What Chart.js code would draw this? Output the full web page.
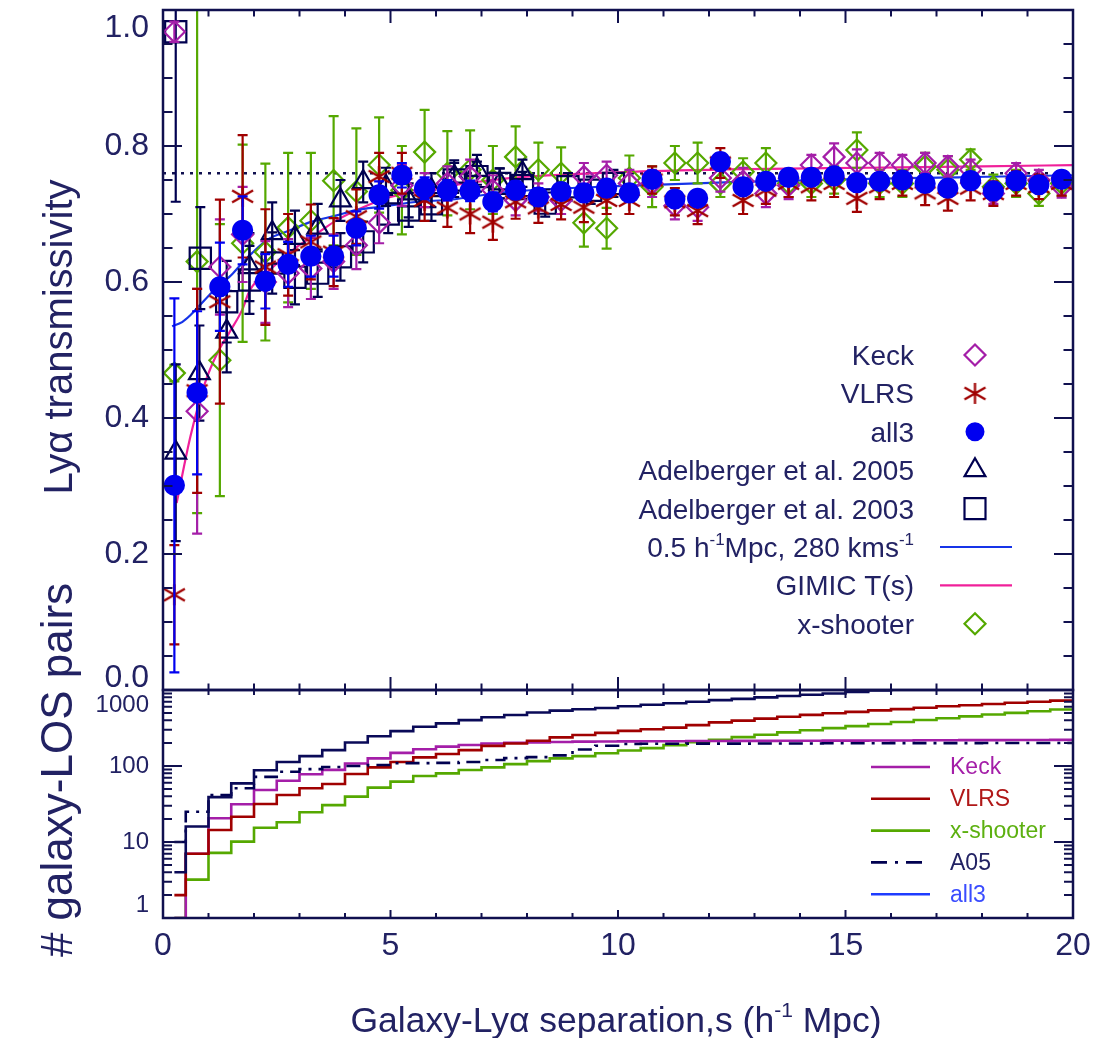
<!DOCTYPE html>
<html>
<head>
<meta charset="utf-8">
<title>Lyα transmissivity around galaxies</title>
<script src="https://cdn.jsdelivr.net/npm/chart.js@4.4.1/dist/chart.umd.min.js"></script>
<style>
  html, body { margin: 0; padding: 0; background: #fff; }
  #page { position: relative; width: 1099px; height: 1038px; overflow: hidden; }
  canvas { position: absolute; left: 0; }
  #upper { top: 0; }
  #lower { top: 520px; }
</style>
</head>
<body>
<div id="page">
  <canvas id="lower" width="1099" height="518"></canvas>
  <canvas id="upper" width="1099" height="700"></canvas>
</div>
<script>
// separation bins (h^-1 Mpc)
const sBins = [0.25, 0.75, 1.25, 1.75, 2.25, 2.75, 3.25, 3.75, 4.25, 4.75,
               5.25, 5.75, 6.25, 6.75, 7.25, 7.75, 8.25, 8.75, 9.25, 9.75,
               10.25, 10.75, 11.25, 11.75, 12.25, 12.75, 13.25, 13.75, 14.25, 14.75,
               15.25, 15.75, 16.25, 16.75, 17.25, 17.75, 18.25, 18.75, 19.25, 19.75];

const keckT = [0.968, 0.41, 0.622, 0.67, 0.60, 0.613, 0.62, 0.63, 0.654, 0.687,
               0.742, 0.735, 0.745, 0.755, 0.735, 0.72, 0.725, 0.72, 0.755, 0.757,
               0.745, 0.745, 0.712, 0.71, 0.753, 0.748, 0.73, 0.742, 0.772, 0.784,
               0.775, 0.775, 0.772, 0.775, 0.77, 0.765, 0.73, 0.76, 0.75, 0.74];
const keckErr = [0.015, 0.18, 0.07, 0.07, 0.06, 0.05, 0.045, 0.04, 0.035, 0.03,
                 0.03, 0.025, 0.025, 0.025, 0.022, 0.022, 0.02, 0.02, 0.02, 0.02,
                 0.02, 0.02, 0.02, 0.02, 0.02, 0.02, 0.02, 0.02, 0.015, 0.02,
                 0.02, 0.015, 0.015, 0.015, 0.015, 0.015, 0.015, 0.015, 0.015, 0.016];

const vlrsT = [0.14, 0.44, 0.571, 0.726, 0.622, 0.64, 0.659, 0.644, 0.696, 0.755,
               0.76, 0.72, 0.709, 0.70, 0.688, 0.718, 0.709, 0.714, 0.71, 0.72,
               0.72, 0.75, 0.718, 0.705, 0.775, 0.72, 0.735, 0.745, 0.74, 0.745,
               0.723, 0.74, 0.745, 0.731, 0.723, 0.738, 0.73, 0.745, 0.74, 0.745];
const vlrsErr = [0.073, 0.15, 0.15, 0.09, 0.085, 0.06, 0.055, 0.05, 0.04, 0.035,
                 0.03, 0.03, 0.028, 0.028, 0.026, 0.025, 0.022, 0.022, 0.022, 0.02,
                 0.02, 0.02, 0.02, 0.02, 0.022, 0.02, 0.02, 0.02, 0.02, 0.02,
                 0.02, 0.018, 0.018, 0.018, 0.018, 0.018, 0.018, 0.018, 0.018, 0.018];

const all3T = [0.301, 0.437, 0.593, 0.676, 0.601, 0.626, 0.638, 0.638, 0.679, 0.728,
               0.757, 0.738, 0.735, 0.734, 0.718, 0.735, 0.725, 0.733, 0.731, 0.738,
               0.731, 0.751, 0.722, 0.723, 0.777, 0.740, 0.748, 0.754, 0.754, 0.756,
               0.746, 0.748, 0.750, 0.745, 0.738, 0.749, 0.734, 0.749, 0.743, 0.751];
const all3Err = [0.275, 0.12, 0.065, 0.05, 0.04, 0.033, 0.03, 0.03, 0.025, 0.02,
                 0.018, 0.016, 0.015, 0.015, 0.014, 0.013, 0.013, 0.012, 0.012, 0.012,
                 0.012, 0.011, 0.011, 0.011, 0.012, 0.01, 0.01, 0.01, 0.01, 0.01,
                 0.01, 0.01, 0.01, 0.01, 0.01, 0.01, 0.01, 0.01, 0.01, 0.01];

const xshT = [0.466, 0.63, 0.485, 0.657, 0.644, 0.68, 0.69, 0.749, 0.733, 0.772,
              0.735, 0.791, 0.76, 0.765, 0.75, 0.784, 0.765, 0.76, 0.687, 0.679,
              0.753, 0.74, 0.775, 0.775, 0.745, 0.762, 0.775, 0.745, 0.745, 0.75,
              0.794, 0.745, 0.745, 0.77, 0.765, 0.78, 0.74, 0.745, 0.73, 0.745];
const xshErr = [0.012, 0.37, 0.2, 0.145, 0.13, 0.11, 0.1, 0.095, 0.093, 0.07,
                0.065, 0.062, 0.062, 0.058, 0.05, 0.045, 0.04, 0.038, 0.035, 0.03,
                0.033, 0.03, 0.025, 0.03, 0.02, 0.02, 0.022, 0.02, 0.02, 0.02,
                0.026, 0.02, 0.02, 0.02, 0.02, 0.015, 0.018, 0.02, 0.018, 0.018];

// Adelberger et al. points sit slightly right of the bin centres
const sA05 = [0.28, 0.8, 1.4, 1.9, 2.4, 2.9, 3.4, 3.9, 4.4, 4.9, 5.4, 5.9, 6.4, 6.9, 7.4, 7.9];
const a05T = [0.349, 0.466, 0.527, 0.622, 0.672, 0.665, 0.68, 0.72, 0.747, 0.74,
              0.72, 0.735, 0.755, 0.765, 0.745, 0.76];
const a05Err = [0.13, 0.07, 0.06, 0.05, 0.045, 0.04, 0.035, 0.03, 0.03, 0.028,
                0.025, 0.025, 0.024, 0.022, 0.022, 0.02];

const sA03 = [0.28, 0.82, 1.4, 1.9, 2.4, 2.9, 3.4, 3.9, 4.4, 4.95,
              5.4, 5.9, 6.4, 6.9, 7.4, 7.9, 8.4, 8.9, 9.4, 9.9];
const a03T = [0.968, 0.635, 0.571, 0.603, 0.628, 0.607, 0.613, 0.637, 0.659, 0.70,
              0.706, 0.715, 0.75, 0.755, 0.745, 0.742, 0.716, 0.74, 0.735, 0.745];
const a03Err = [0.25, 0.075, 0.06, 0.05, 0.045, 0.04, 0.035, 0.035, 0.03, 0.028,
                0.025, 0.025, 0.025, 0.022, 0.022, 0.02, 0.02, 0.02, 0.02, 0.02];

// model curves
const modelS = [0.2, 0.42, 0.6, 0.81, 1.08, 1.3, 1.54, 1.8, 2.29, 2.79, 3.23, 3.82,
                4.26, 4.84, 5.58, 6.31, 7.5, 10, 12.5, 15, 17.5, 20];
const modelT = [0.535, 0.541, 0.551, 0.566, 0.585, 0.598, 0.613, 0.632, 0.662, 0.676, 0.688, 0.698,
                0.706, 0.711, 0.718, 0.721, 0.732, 0.741, 0.747, 0.751, 0.754, 0.757];
const gimicS = [0.3, 0.6, 0.92, 1.19, 1.47, 1.74, 1.91, 2.35, 2.85, 3.4, 3.82,
                4.4, 5.0, 5.58, 6.16, 7.0, 7.8, 10.3, 12.9, 15.5, 18, 20];
const gimicT = [0.275, 0.372, 0.451, 0.495, 0.527, 0.559, 0.588, 0.618, 0.647, 0.672, 0.691,
                0.71, 0.725, 0.732, 0.74, 0.748, 0.754, 0.762, 0.766, 0.768, 0.77, 0.772];
const meanLevel = 0.76;

// cumulative galaxy-LOS pair counts, one value per step starting at each edge
const histS = [0.25, 0.5, 1, 1.5, 2, 2.5, 3, 3.5, 4, 4.5, 5, 5.5, 6, 6.5, 7, 7.5, 8, 8.5, 9, 9.5,
               10, 10.5, 11, 11.5, 12, 12.5, 13, 13.5, 14, 14.5, 15, 15.5, 16, 16.5, 17, 17.5,
               18, 18.5, 19, 19.5, 20];
const nAll3 = [4, 16, 39, 59, 88, 113, 135, 162, 204, 246, 288, 329, 364, 402, 437, 469, 505, 535, 557, 580,
               610, 640, 670, 700, 735, 765, 800, 835, 865, 900, 940, 990, 1030, 1070, 1110, 1150,
               1190, 1230, 1270, 1310, 1310];
const nKeck = [1, 7, 20.5, 31.4, 48.4, 64, 78, 89, 108, 126, 149, 166, 180, 189, 198, 202, 204, 207, 209, 210,
               211, 212, 212, 213, 213, 214, 214, 215, 215, 216, 216, 217, 217, 218, 218, 219,
               219, 220, 220, 221, 221];
const nVLRS = [2, 7, 14.4, 21.5, 31.6, 41.5, 51, 58, 78.6, 96, 113, 130, 144, 162, 184, 198, 215, 238, 256, 273,
               290, 305, 320, 345, 375, 395, 420, 445, 470, 495, 515, 540, 560, 585, 610, 630,
               655, 680, 700, 725, 725];
const nXsh = [1, 3.2, 7.2, 10.1, 15.4, 18.2, 24.6, 30.6, 39.5, 51.9, 62.2, 73.7, 80, 88.6, 96, 106, 116, 126, 135, 147,
              160, 172, 188, 205, 222, 240, 258, 277, 296, 315, 335, 357, 380, 403, 425, 450,
              475, 500, 525, 555, 555];
const nA05 = [10, 25, 41.5, 51, 72, 84, 91, 97, 100, 103, 109, 109, 110, 113, 120, 127, 131, 138, 165, 185,
              195, 196, 196, 197, 197, 197, 198, 198, 198, 199, 199, 199, 200, 200, 200, 200,
              201, 201, 201, 201, 201];

const upperYLabels = ['0.0', '0.2', '0.4', '0.6', '0.8', '1.0'];
const upperYValues = [0, 0.2, 0.4, 0.6, 0.8, 1.0];
const lowerYLabels = ['1', '10', '100', '1000'];
const lowerYValues = [1, 10, 100, 1000];
const xLabels = ['0', '5', '10', '15', '20'];
const xValues = [0, 5, 10, 15, 20];

const FONT = '"Liberation Sans", Arial, Helvetica, sans-serif';
const NAVY = '#10104f';
const TEXT = '#222263';
const KECK = '#a41ea8';
const VLRS = '#a00000';
const ALL3 = '#0000f0';
const ADEL = '#000050';
const MODEL = '#1634e8';
const GIMIC = '#f0209a';
const XSH = '#55a800';

const pts = (xs, ys) => xs.map((x, i) => ({ x: x, y: ys[i] }));

// six-armed asterisk marker
function asterisk(color, r) {
  const c = document.createElement('canvas');
  const s = Math.ceil(2 * r + 4);
  c.width = c.height = s;
  const g = c.getContext('2d');
  const m = s / 2;
  g.strokeStyle = color;
  g.lineWidth = 2.3;
  g.beginPath();
  g.moveTo(m, m - r); g.lineTo(m, m + r);
  g.moveTo(m - r, m - 0.58 * r); g.lineTo(m + r, m + 0.58 * r);
  g.moveTo(m - r, m + 0.58 * r); g.lineTo(m + r, m - 0.58 * r);
  g.stroke();
  return c;
}
const vlrsStar = asterisk(VLRS, 10.5);

// text runs: [text, isSuperscript]
function richWidth(ctx, parts, size) {
  let w = 0;
  parts.forEach(([t, sup]) => {
    ctx.font = (sup ? Math.round(size * 0.6) : size) + 'px ' + FONT;
    w += ctx.measureText(t).width;
  });
  return w;
}
function drawRich(ctx, parts, x, y, size, align) {
  const w = richWidth(ctx, parts, size);
  let cx = align === 'right' ? x - w : align === 'center' ? x - w / 2 : x;
  ctx.textAlign = 'left';
  ctx.textBaseline = 'alphabetic';
  parts.forEach(([t, sup]) => {
    ctx.font = (sup ? Math.round(size * 0.6) : size) + 'px ' + FONT;
    ctx.fillText(t, cx, sup ? y - size * 0.42 : y);
    cx += ctx.measureText(t).width;
  });
}

function drawMarker(ctx, kind, x, y, color) {
  ctx.save();
  ctx.strokeStyle = color;
  ctx.fillStyle = color;
  ctx.lineWidth = 2.2;
  ctx.beginPath();
  if (kind === 'diamond') {
    const r = 10.5;
    ctx.moveTo(x, y - r); ctx.lineTo(x + r, y); ctx.lineTo(x, y + r); ctx.lineTo(x - r, y); ctx.closePath();
    ctx.stroke();
  } else if (kind === 'square') {
    ctx.rect(x - 10.5, y - 10.5, 21, 21);
    ctx.stroke();
  } else if (kind === 'triangle') {
    const r = 12;
    ctx.moveTo(x, y - r);
    ctx.lineTo(x + r * Math.sin(2 * Math.PI / 3), y + r / 2);
    ctx.lineTo(x - r * Math.sin(2 * Math.PI / 3), y + r / 2);
    ctx.closePath();
    ctx.stroke();
  } else if (kind === 'dot') {
    ctx.arc(x, y, 9.5, 0, Math.PI * 2);
    ctx.fill();
  } else if (kind === 'asterisk') {
    ctx.drawImage(vlrsStar, x - vlrsStar.width / 2, y - vlrsStar.height / 2);
  }
  ctx.restore();
}

// vertical error bars with short caps, drawn under each series' markers
const errorBars = {
  id: 'errorBars',
  beforeDatasetDraw(chart, args) {
    const ds = chart.data.datasets[args.index];
    if (!ds.errors) return;
    const { ctx, chartArea: a } = chart;
    const y = chart.scales.y;
    ctx.save();
    ctx.beginPath();
    ctx.rect(a.left, a.top, a.right - a.left, a.bottom - a.top);
    ctx.clip();
    ctx.strokeStyle = ds.borderColor;
    ctx.lineWidth = 2.2;
    ctx.beginPath();
    args.meta.data.forEach((pt, i) => {
      const v = ds.data[i].y, e = ds.errors[i];
      const y1 = y.getPixelForValue(v + e), y2 = y.getPixelForValue(v - e);
      ctx.moveTo(pt.x, y1); ctx.lineTo(pt.x, y2);
      ctx.moveTo(pt.x - 5, y1); ctx.lineTo(pt.x + 5, y1);
      ctx.moveTo(pt.x - 5, y2); ctx.lineTo(pt.x + 5, y2);
    });
    ctx.stroke();
    ctx.restore();
  }
};

// boxed axes with inward ticks on all four sides, IDL style
function boxAxes(cfg) {
  return {
    id: 'boxAxes',
    afterDraw(chart) {
      const { ctx, chartArea: a, scales: { x, y } } = chart;
      ctx.save();
      ctx.strokeStyle = NAVY;
      ctx.lineWidth = 2;
      ctx.beginPath();
      cfg.xTicks.forEach(([v, len]) => {
        const p = x.getPixelForValue(v);
        ctx.moveTo(p, a.top); ctx.lineTo(p, a.top + len);
        ctx.moveTo(p, a.bottom); ctx.lineTo(p, a.bottom - len);
      });
      cfg.yTicks.forEach(([v, len]) => {
        const p = y.getPixelForValue(v);
        ctx.moveTo(a.left, p); ctx.lineTo(a.left + len, p);
        ctx.moveTo(a.right, p); ctx.lineTo(a.right - len, p);
      });
      ctx.stroke();
      ctx.lineWidth = 2.5;
      ctx.strokeRect(a.left, a.top, a.right - a.left, a.bottom - a.top);

      ctx.fillStyle = TEXT;
      ctx.font = cfg.yFont + 'px ' + FONT;
      ctx.textAlign = 'right';
      ctx.textBaseline = 'middle';
      cfg.yLabels.forEach((t, i) => {
        let p = y.getPixelForValue(cfg.yValues[i]);
        if (i === 0) p += cfg.yShift[0];
        if (i === cfg.yLabels.length - 1) p += cfg.yShift[1];
        ctx.fillText(t, a.left - 14, p);
      });
      if (cfg.xLabels) {
        ctx.font = cfg.xFont + 'px ' + FONT;
        ctx.textAlign = 'center';
        ctx.textBaseline = 'middle';
        cfg.xLabels.forEach((t, i) => ctx.fillText(t, x.getPixelForValue(cfg.xValues[i]), a.bottom + 28));
      }
      ctx.save();
      ctx.translate(cfg.yTitlePos[0], cfg.yTitlePos[1]);
      ctx.rotate(-Math.PI / 2);
      drawRich(ctx, cfg.yTitle, 0, 0, cfg.yTitleFont, 'center');
      ctx.restore();
      if (cfg.xTitle) drawRich(ctx, cfg.xTitle, cfg.xTitlePos[0], cfg.xTitlePos[1], cfg.xTitleFont, 'center');
      ctx.restore();
    }
  };
}

const xTickList = [];
for (let v = 0; v <= 20; v++) xTickList.push(v);
const upperYTickList = [];
for (let k = 0; k <= 20; k++) upperYTickList.push(k * 0.05);
const lowerYTickList = [];
[1, 10, 100].forEach(d => { for (let m = 1; m <= 10; m++) lowerYTickList.push(d * m); });

const upperLegendRows = [
  { text: [['Keck']], marker: 'diamond', color: KECK },
  { text: [['VLRS']], marker: 'asterisk', color: VLRS },
  { text: [['all3']], marker: 'dot', color: ALL3 },
  { text: [['Adelberger et al. 2005']], marker: 'triangle', color: ADEL },
  { text: [['Adelberger et al. 2003']], marker: 'square', color: ADEL },
  { text: [['0.5 h'], ['-1', true], ['Mpc, 280 kms'], ['-1', true]], line: MODEL },
  { text: [['GIMIC T(s)']], line: GIMIC },
  { text: [['x-shooter']], marker: 'diamond', color: XSH }
];

const upperLegend = {
  id: 'upperLegend',
  afterDraw(chart) {
    const ctx = chart.ctx;
    ctx.save();
    upperLegendRows.forEach((row, i) => {
      const y = 355 + 38.4 * i;
      ctx.fillStyle = TEXT;
      drawRich(ctx, row.text, 914, y + 10, 28, 'right');
      if (row.line) {
        ctx.strokeStyle = row.line;
        ctx.lineWidth = 2.2;
        ctx.beginPath(); ctx.moveTo(940, y); ctx.lineTo(1012, y); ctx.stroke();
      } else {
        drawMarker(ctx, row.marker, 975, y, row.color);
      }
    });
    ctx.restore();
  }
};

const lowerLegendRows = [
  { text: 'Keck', color: KECK, textColor: KECK, dash: [] },
  { text: 'VLRS', color: VLRS, textColor: '#b01818', dash: [] },
  { text: 'x-shooter', color: XSH, textColor: '#5cb010', dash: [] },
  { text: 'A05', color: ADEL, textColor: TEXT, dash: [16, 8, 3, 8] },
  { text: 'all3', color: '#1e3cff', textColor: '#3a4cff', dash: [] }
];

const lowerLegend = {
  id: 'lowerLegend',
  afterDraw(chart) {
    const ctx = chart.ctx;
    const top = chart.chartArea.top;
    ctx.save();
    lowerLegendRows.forEach((row, i) => {
      const y = top + 77 + 31.8 * i;
      ctx.strokeStyle = row.color;
      ctx.lineWidth = 2.6;
      ctx.setLineDash(row.dash);
      ctx.beginPath(); ctx.moveTo(871, y); ctx.lineTo(930, y); ctx.stroke();
      ctx.setLineDash([]);
      ctx.fillStyle = row.textColor;
      ctx.font = '23px ' + FONT;
      ctx.textAlign = 'left';
      ctx.textBaseline = 'middle';
      ctx.fillText(row.text, 950, y + 1);
    });
    ctx.restore();
  }
};

const markerSet = (label, xs, ys, errs, style, color, radius, filled) => ({
  label: label,
  data: pts(xs, ys),
  errors: errs,
  showLine: false,
  pointStyle: style,
  pointRadius: radius,
  pointBorderWidth: 2.2,
  borderColor: color,
  pointBorderColor: color,
  pointBackgroundColor: filled ? color : 'rgba(0,0,0,0)'
});

new Chart(document.getElementById('upper'), {
  type: 'line',
  data: {
    datasets: [
      markerSet('all3', sBins, all3T, all3Err, 'circle', ALL3, 9.5, true),
      markerSet('VLRS', sBins, vlrsT, vlrsErr, vlrsStar, VLRS, 10, false),
      markerSet('Keck', sBins, keckT, keckErr, 'rectRot', KECK, 10.5, false),
      markerSet('Adelberger et al. 2005', sA05, a05T, a05Err, 'triangle', ADEL, 12, false),
      markerSet('Adelberger et al. 2003', sA03, a03T, a03Err, 'rect', ADEL, 15, false),
      markerSet('x-shooter', sBins, xshT, xshErr, 'rectRot', XSH, 10.5, false),
      {
        label: '0.5 h-1Mpc, 280 kms-1',
        data: pts(modelS, modelT),
        borderColor: MODEL, borderWidth: 2.2, pointRadius: 0,
        cubicInterpolationMode: 'monotone'
      },
      {
        label: 'GIMIC T(s)',
        data: pts(gimicS, gimicT),
        borderColor: GIMIC, borderWidth: 2.2, pointRadius: 0,
        cubicInterpolationMode: 'monotone'
      },
      {
        label: 'mean',
        data: [{ x: 0, y: meanLevel }, { x: 20, y: meanLevel }],
        borderColor: NAVY, borderWidth: 2.5, borderDash: [3, 6], pointRadius: 0
      }
    ]
  },
  options: {
    responsive: false,
    animation: false,
    events: [],
    layout: { autoPadding: false, padding: { left: 163, right: 26, top: 10, bottom: 10 } },
    scales: {
      x: { type: 'linear', min: 0, max: 20, display: false },
      y: { type: 'linear', min: 0, max: 1, display: false }
    },
    plugins: { legend: { display: false }, tooltip: { enabled: false } }
  },
  plugins: [errorBars, upperLegend, boxAxes({
    xTicks: xTickList.map(v => [v, v % 5 === 0 ? 13 : 6.5]),
    yTicks: upperYTickList.map((v, k) => [v, k % 4 === 0 ? 19 : 9.5]),
    yLabels: upperYLabels, yValues: upperYValues, yShift: [-12, 18], yFont: 32,
    yTitle: [['Ly'], ['α'], [' transmissivity']], yTitlePos: [72, 337], yTitleFont: 40
  })]
});

const stepSet = (label, ys, color, dash) => ({
  label: label,
  data: pts(histS, ys),
  stepped: true,
  borderColor: color,
  borderWidth: 2.6,
  borderDash: dash,
  pointRadius: 0
});

// earlier entries are painted on top
new Chart(document.getElementById('lower'), {
  type: 'line',
  data: {
    datasets: [
      stepSet('all3', nAll3, '#0a0a58', []),
      stepSet('A05', nA05, ADEL, [14, 7, 3, 7]),
      stepSet('VLRS', nVLRS, VLRS, []),
      stepSet('Keck', nKeck, KECK, []),
      stepSet('x-shooter', nXsh, XSH, [])
    ]
  },
  options: {
    responsive: false,
    animation: false,
    events: [],
    layout: { autoPadding: false, padding: { left: 163, right: 26, top: 170, bottom: 120 } },
    scales: {
      x: { type: 'linear', min: 0, max: 20, display: false },
      y: { type: 'logarithmic', min: 1, max: 1000, display: false }
    },
    plugins: { legend: { display: false }, tooltip: { enabled: false } }
  },
  plugins: [lowerLegend, boxAxes({
    xTicks: xTickList.map(v => [v, v % 5 === 0 ? 8 : 5]),
    yTicks: lowerYTickList.map(v => [v, [1, 10, 100, 1000].includes(v) ? 19 : 9]),
    yLabels: lowerYLabels, yValues: lowerYValues, yShift: [-13, 15], yFont: 24,
    xLabels: xLabels, xValues: xValues, xFont: 32,
    yTitle: [['# galaxy-LOS pairs']], yTitlePos: [72, 250], yTitleFont: 44,
    xTitle: [['Galaxy-Ly'], ['α'], [' separation,s (h'], ['-1', true], [' Mpc)']], xTitlePos: [616, 512],
    xTitleFont: 35.5
  })]
});
</script>
</body>
</html>
